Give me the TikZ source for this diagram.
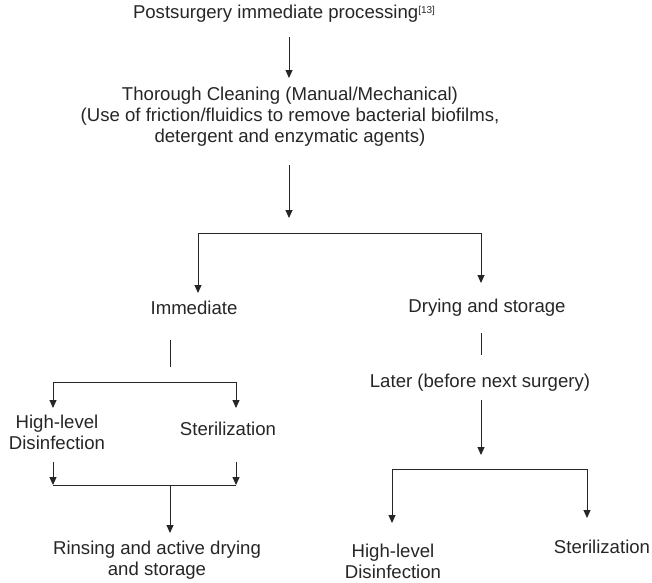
\documentclass[tikz,border=0pt]{standalone}
\usepackage{fontspec}
\setmainfont{Liberation Sans}
\usetikzlibrary{arrows.meta}
\begin{document}
\begin{tikzpicture}[x=1pt,y=-1pt,
  txt/.style={inner sep=0pt,align=center,font=\fontsize{18.6}{21}\selectfont,text=black!85},
  conn/.style={line width=1pt,draw=black!85},
  arr/.style={conn,-{Triangle[length=8pt,width=7pt]}}]
\useasboundingbox (0,0) rectangle (652,582);
% texts
\node[txt] (title) at (284,14) {Postsurgery immediate processing\raisebox{0.55ex}{\fontsize{10}{10}\selectfont[13]}};
\node[txt] (clean) at (290,117) {Thorough Cleaning (Manual/Mechanical)\\(Use of friction/fluidics to remove bacterial biofilms,\\detergent and enzymatic agents)};
\node[txt] (imm) at (194,308) {Immediate};
\node[txt] (dry) at (487,308) {Drying and storage};
\node[txt] (hldl) at (57,432) {High-level\\Disinfection};
\node[txt] (sterl) at (228,429) {Sterilization};
\node[txt] (rinse) at (157,560) {Rinsing and active drying\\and storage};
\node[txt] (later) at (480,383) {Later (before next surgery)};
\node[txt] (hldr) at (393,561) {High-level\\Disinfection};
\node[txt] (sterr) at (602,547) {Sterilization};
% coordinates
\coordinate (a1s) at (289,37);  \coordinate (a1e) at (289,78);
\coordinate (a2s) at (289,165); \coordinate (a2e) at (289,218);
\coordinate (b1l) at (198,233); \coordinate (b1r) at (481,233);
\coordinate (b1le) at (198,293); \coordinate (b1re) at (481,283);
\coordinate (i1s) at (170,340); \coordinate (i1e) at (170,367);
\coordinate (d1s) at (481,333); \coordinate (d1e) at (481,355);
\coordinate (b2l) at (53,382);  \coordinate (b2r) at (236,382);
\coordinate (b2le) at (53,408); \coordinate (b2re) at (236,408);
\coordinate (m1s) at (53,462);  \coordinate (m1e) at (53,485);
\coordinate (m2s) at (236,462); \coordinate (m2e) at (236,485);
\coordinate (mc) at (170,485);  \coordinate (mce) at (170,533);
\coordinate (l1s) at (481,400); \coordinate (l1e) at (481,455);
\coordinate (b3l) at (392,469); \coordinate (b3r) at (587,469);
\coordinate (b3le) at (392,523); \coordinate (b3re) at (587,518);
% connectors
\draw[arr] (a1s) -- (a1e);
\draw[arr] (a2s) -- (a2e);
\draw[conn] (b1l) -- (b1r);
\draw[arr] (b1l) -- (b1le);
\draw[arr] (b1r) -- (b1re);
\draw[conn] (i1s) -- (i1e);
\draw[conn] (d1s) -- (d1e);
\draw[conn] (b2l) -- (b2r);
\draw[arr] (b2l) -- (b2le);
\draw[arr] (b2r) -- (b2re);
\draw[arr] (m1s) -- (m1e);
\draw[arr] (m2s) -- (m2e);
\draw[conn] (m1e) -- (m2e);
\draw[arr] (mc) -- (mce);
\draw[arr] (l1s) -- (l1e);
\draw[conn] (b3l) -- (b3r);
\draw[arr] (b3l) -- (b3le);
\draw[arr] (b3r) -- (b3re);
\end{tikzpicture}
\end{document}
